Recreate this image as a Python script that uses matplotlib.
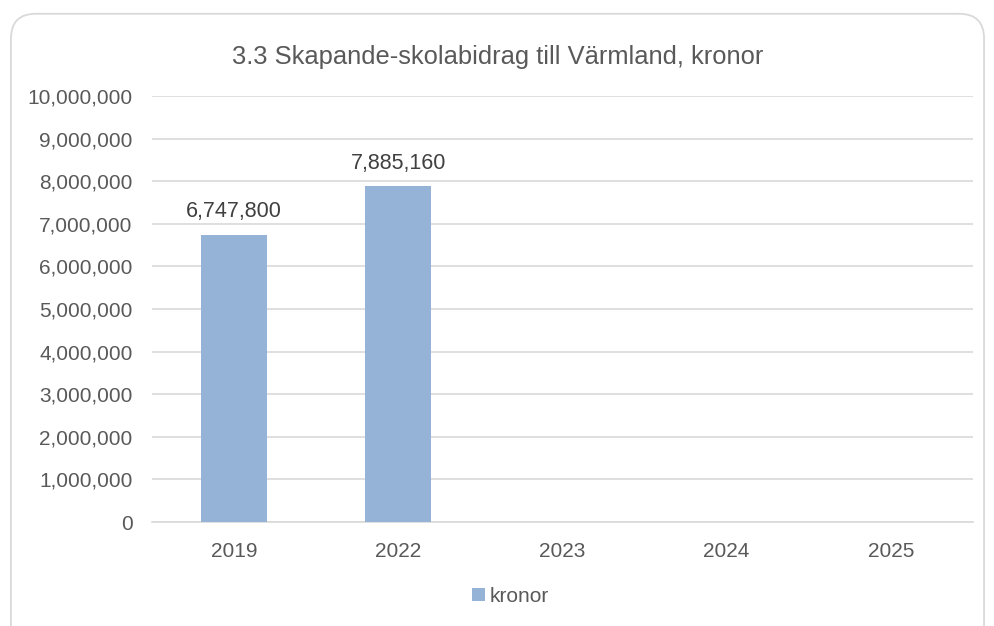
import matplotlib.pyplot as plt
from matplotlib.patches import FancyBboxPatch
from matplotlib.ticker import FuncFormatter, MultipleLocator

years = ['2019', '2022', '2023', '2024', '2025']
kronor = [6747800, 7885160, 0, 0, 0]

plt.rcParams['font.family'] = ['Liberation Sans', 'DejaVu Sans']

fig = plt.figure(figsize=(9.95, 6.26), dpi=100)
border = FancyBboxPatch((0.011, -0.05), 0.978, 1.028,
                        boxstyle='round,pad=0,rounding_size=0.025',
                        transform=fig.transFigure, facecolor='white',
                        edgecolor='#D9D9D9', linewidth=1.3,
                        mutation_aspect=995 / 626, zorder=-5)
fig.patches.append(border)

ax = fig.add_axes([0.1528, 0.166, 0.825, 0.6806])
ax.set_zorder(2)
ax.patch.set_alpha(0)
x = range(len(years))
ax.bar(x, kronor, width=0.4, color='#95B3D7', label='kronor', zorder=3)

for xi, v in zip(x, kronor):
    if v:
        ax.text(xi, v + 290000, f'{v:,}', ha='center', va='bottom',
                fontsize=15.5, color='#404040')

ax.set_xlim(-0.5, len(years) - 0.5)
ax.set_ylim(0, 10000000)
ax.yaxis.set_major_locator(MultipleLocator(1000000))
ax.yaxis.set_major_formatter(FuncFormatter(lambda v, p: f'{int(v):,}'))
ax.set_xticks(list(x))
ax.set_xticklabels(years)
ax.grid(axis='y', color='#D9D9D9', linewidth=1.2, zorder=0)
ax.tick_params(axis='both', length=0, labelsize=15, colors='#595959')
ax.tick_params(axis='y', pad=14)
ax.tick_params(axis='x', pad=14)
for s in ['top', 'right', 'left']:
    ax.spines[s].set_visible(False)
ax.spines['bottom'].set_color('#D9D9D9')
ax.spines['bottom'].set_linewidth(1.2)

fig.text(0.5, 0.909, '3.3 Skapande-skolabidrag till Värmland, kronor',
         ha='center', va='center', fontsize=18.4, color='#595959')

fig.legend(loc='center', bbox_to_anchor=(0.513, 0.047), frameon=False,
           fontsize=15, handlelength=0.6, handleheight=0.6, handletextpad=0.2,
           labelcolor='#595959')

fig.savefig('out.png', dpi=100)
